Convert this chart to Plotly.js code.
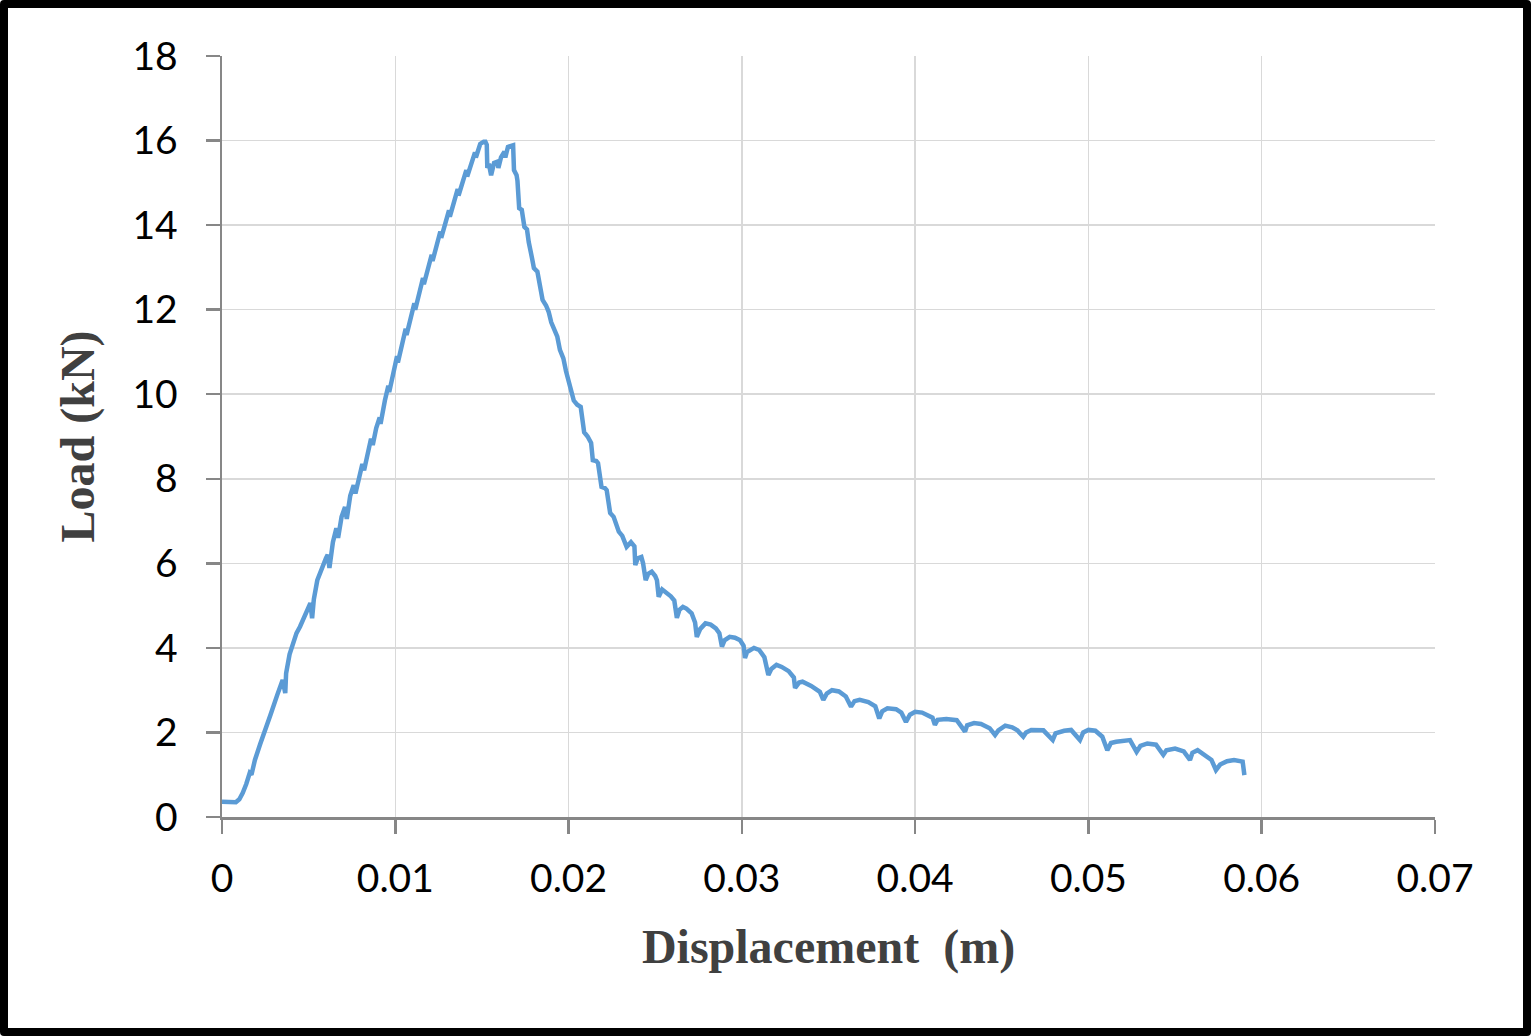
<!DOCTYPE html>
<html>
<head>
<meta charset="utf-8">
<script src="https://cdn.plot.ly/plotly-3.0.1.min.js"></script>
<style>
html,body{margin:0;padding:0;background:#fff;}
#wrap{position:relative;width:1531px;height:1036px;}
#chart{width:1531px;height:1036px;}
#frame{position:absolute;left:0;top:0;width:1531px;height:1036px;box-sizing:border-box;border:8px solid #000;border-radius:4px;pointer-events:none;}
</style>
</head>
<body>
<div id="wrap"><div id="chart"></div><div id="frame"></div></div>
<script>
const displacement = [
0,0.0004,0.0008,0.0010,0.0012,0.0014,0.0016,0.0017,0.0019,0.0022,0.0025,0.0028,0.0032,0.0035,0.00365,0.0037,0.0039,0.0041,0.0043,0.0045,0.0048,0.0051,0.0052,0.0053,0.0055,0.0058,0.0060,0.0061,0.0062,0.0064,0.0066,0.0067,0.0069,0.0071,0.0072,0.0074,
0.0076,0.0077,0.0079,0.0081,0.0082,0.0084,0.0086,0.0087,0.0089,0.0091,0.00915,0.0094,0.0096,0.00965,0.0099,0.0101,0.01015,0.0104,0.0106,0.01065,0.0109,0.0111,0.01115,0.0114,0.0116,0.01165,0.0119,0.0121,0.01215,0.0124,0.0126,0.01265,0.0129,0.0131,0.01315,0.0134,0.0136,0.01365,0.0139,0.0141,0.01415,0.0144,0.0146,0.01465,0.0149,0.0151,0.0152,0.01528,
0.01531,0.0154,0.01553,0.0157,0.0159,0.01595,0.0161,0.0163,0.01635,0.0165,0.0168,0.01685,0.0170,0.01705,0.01715,0.0173,0.01745,0.0176,0.0177,0.0179,0.0180,0.0182,0.01835,0.0185,0.0187,0.01885,0.0190,0.0192,0.01935,0.0195,0.0197,0.01985,0.0200,0.0202,0.0203,0.0205,0.0207,0.0209,0.0211,0.0213,0.0214,0.0216,0.0217,0.0219,0.0221,0.0222,0.0224,0.0226,0.0227,0.0229,0.0231,0.02335,0.0236,0.0238,0.02385,0.0240,0.0242,0.0243,0.02445,0.0246,0.0248,0.0250,0.0251,0.0252,0.0254,0.0256,0.0259,0.0261,0.02625,0.0264,0.0266,0.0268,0.0271,0.0273,0.0274,0.0276,0.0279,0.0282,0.0285,0.0287,0.02885,0.0290,0.0293,0.0296,0.0299,0.0301,0.03018,0.0303,0.0307,0.0310,0.0313,0.03153,0.0317,0.0320,0.0323,0.0327,0.0330,0.03307,0.0333,0.0335,0.0340,0.0345,0.0347,0.0349,0.0352,0.0356,0.0360,0.0363,0.0365,0.0368,0.0373,0.0377,0.03793,0.0381,0.0384,0.0389,0.0392,0.03947,0.0397,0.0400,0.0404,0.0410,0.04114,0.0413,0.0418,0.0424,0.04288,0.0430,0.0434,0.0438,0.0443,0.04461,0.0448,0.0452,0.0456,0.0459,0.04624,0.0464,0.0467,0.0474,0.04794,0.0481,0.0486,0.0490,0.04951,0.0497,0.0500,0.0504,0.0508,0.05109,0.0513,0.0516,0.0524,0.05278,0.0530,0.0534,0.0539,0.05432,0.0545,0.0550,0.0555,0.05586,0.0560,0.0563,0.0567,0.0571,0.05736,0.0576,0.0580,0.0584,0.0589,0.0590
];
const load = [
0.36,0.36,0.35,0.42,0.57,0.78,1.04,1.0,1.35,1.72,2.05,2.42,2.9,3.24,2.93,3.4,3.85,4.15,4.35,4.5,4.75,5.06,4.7,5.15,5.6,5.95,6.12,6.2,5.89,6.5,6.83,6.6,7.1,7.33,7.05,7.6,
7.85,7.65,8.05,8.35,8.2,8.6,8.95,8.8,9.2,9.45,9.3,9.85,10.2,10.05,10.6,10.9,10.75,11.25,11.55,11.4,11.85,12.15,12.0,12.45,12.75,12.6,13.0,13.3,13.15,13.55,13.85,13.7,14.1,14.35,14.2,14.6,14.85,14.7,15.0,15.3,15.15,15.5,15.72,15.6,15.92,15.97,15.97,15.9,
15.35,15.45,15.18,15.47,15.5,15.35,15.6,15.74,15.6,15.85,15.89,15.3,15.18,15.05,14.4,14.36,13.96,13.9,13.6,13.2,12.98,12.9,12.6,12.23,12.1,11.95,11.7,11.5,11.36,11.05,10.85,10.55,10.3,10.05,9.85,9.75,9.7,9.1,9.0,8.85,8.44,8.42,8.37,7.81,7.78,7.73,7.19,7.1,7.0,6.75,6.65,6.39,6.5,6.4,5.96,6.12,6.15,6.0,5.6,5.75,5.8,5.7,5.6,5.21,5.38,5.32,5.22,5.12,4.71,4.9,4.97,4.93,4.82,4.6,4.26,4.45,4.58,4.55,4.46,4.35,4.03,4.18,4.26,4.24,4.18,4.05,3.76,3.9,4.0,3.95,3.78,3.36,3.5,3.6,3.55,3.45,3.3,3.05,3.18,3.2,3.1,2.96,2.77,2.92,3.0,2.97,2.85,2.61,2.74,2.77,2.72,2.62,2.33,2.5,2.57,2.55,2.47,2.25,2.42,2.49,2.47,2.35,2.18,2.3,2.32,2.29,2.02,2.17,2.22,2.2,2.1,1.94,2.05,2.16,2.12,2.05,1.9,2.0,2.06,2.05,1.82,1.98,2.04,2.06,1.82,2.0,2.06,2.04,1.9,1.58,1.75,1.78,1.82,1.54,1.68,1.74,1.71,1.47,1.58,1.62,1.55,1.35,1.52,1.58,1.45,1.35,1.11,1.24,1.32,1.35,1.31,0.99
];
const xTicks = [0,0.01,0.02,0.03,0.04,0.05,0.06,0.07];
const xTickLabels = ['0','0.01','0.02','0.03','0.04','0.05','0.06','0.07'];
const yTicks = [0,2,4,6,8,10,12,14,16,18];

const trace = {
  x: displacement, y: load, type: 'scatter', mode: 'lines',
  line: {color: '#5B9BD5', width: 4.5}, hoverinfo: 'skip'
};
const tickFont = {family: 'Lato, "Open Sans", sans-serif', size: 39, color: '#000'};
const titleFont = {family: '"Liberation Serif", "Times New Roman", serif', size: 48, color: '#404040', weight: 'bold'};
const layout = {
  width: 1531, height: 1036,
  margin: {l: 222, r: 96, t: 56, b: 219},
  paper_bgcolor: '#fff', plot_bgcolor: '#fff',
  showlegend: false,
  xaxis: {
    range: [0, 0.07], tickmode: 'array', tickvals: xTicks, ticktext: xTickLabels,
    showgrid: true, gridcolor: '#d9d9d9', gridwidth: 1.5,
    showline: true, linecolor: '#878787', linewidth: 2.5,
    ticks: 'outside', ticklen: 14, tickwidth: 2.5, tickcolor: '#878787',
    ticklabelstandoff: 12,
    tickfont: tickFont, zeroline: false,
    title: {text: '<b>Displacement&nbsp; (m)</b>', font: titleFont, standoff: 30}
  },
  yaxis: {
    range: [0, 18], tickmode: 'array', tickvals: yTicks,
    showgrid: true, gridcolor: '#d9d9d9', gridwidth: 1.5,
    showline: true, linecolor: '#878787', linewidth: 2.5,
    ticks: 'outside', ticklen: 14, tickwidth: 2.5, tickcolor: '#878787',
    ticklabelstandoff: 20,
    tickfont: tickFont, zeroline: false,
    title: {text: '<b>Load (kN)</b>', font: titleFont, standoff: 23}
  }
};
Plotly.newPlot('chart', [trace], layout, {displayModeBar: false, staticPlot: true});
</script>
</body>
</html>
